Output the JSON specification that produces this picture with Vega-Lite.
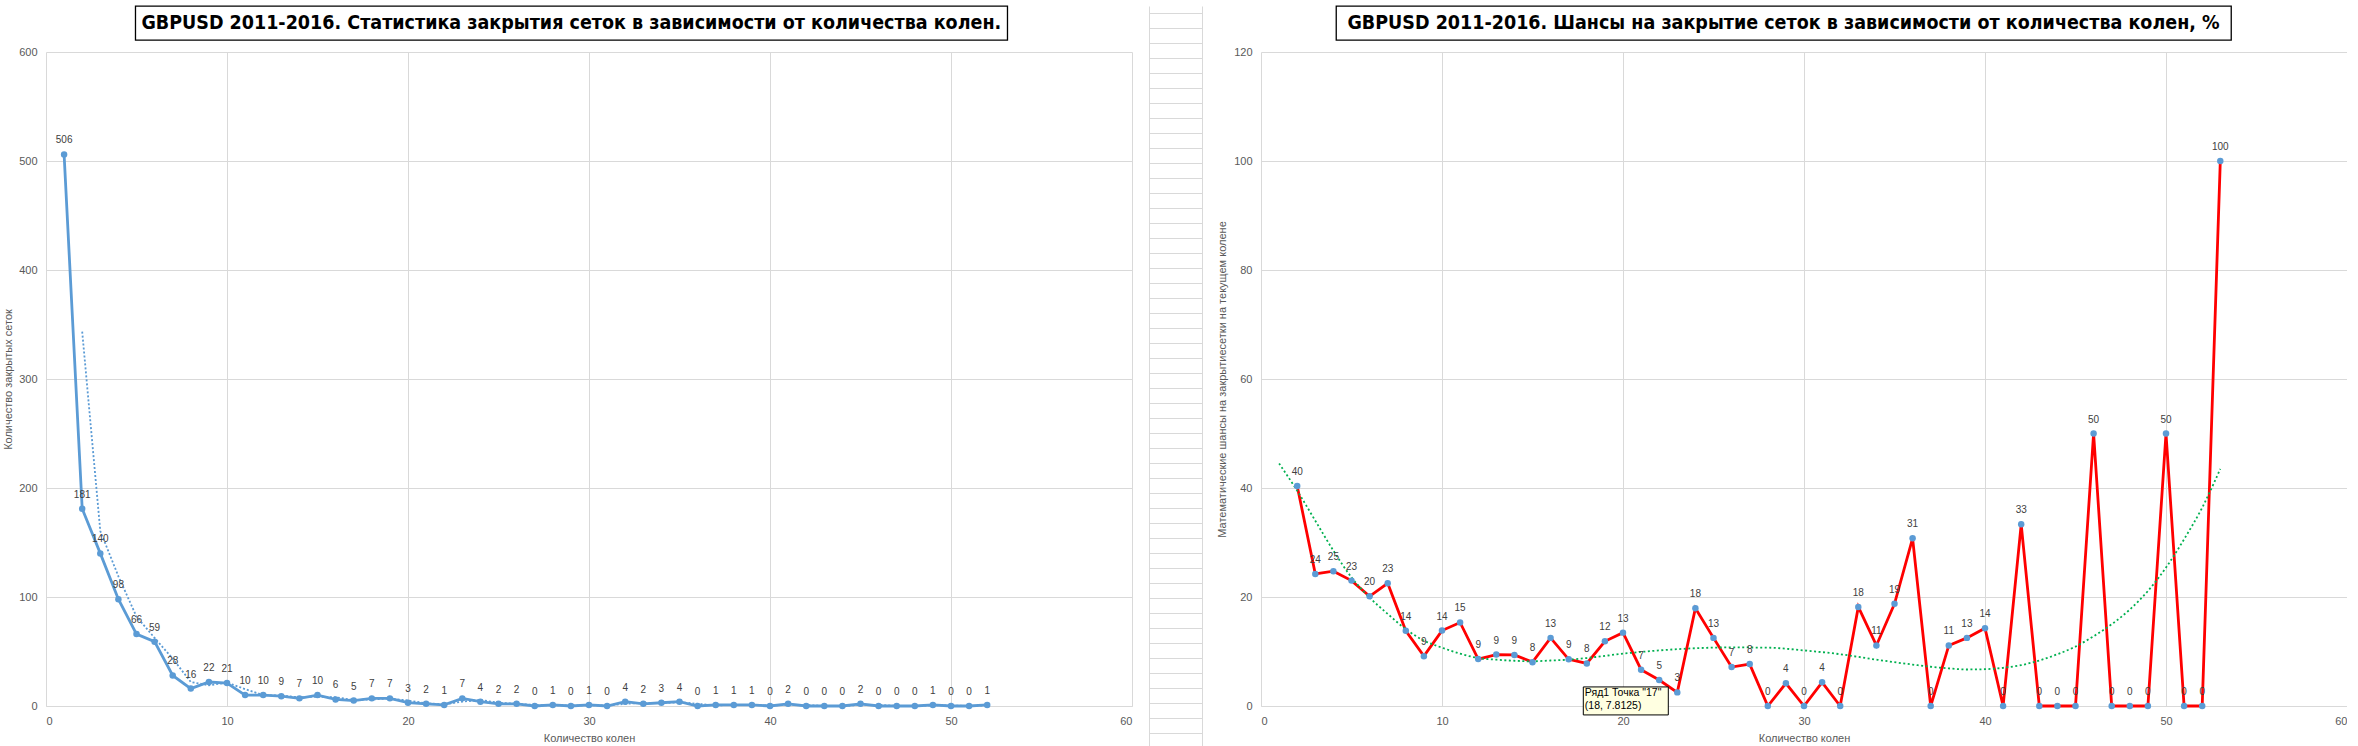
{
  "$schema": "https://vega.github.io/schema/vega-lite/v6.json",
  "background": "white",
  "padding": {"left": 2, "top": 5, "right": 0, "bottom": 0},
  "spacing": 14,
  "datasets": {
    "cnt": [
      {"k":1,"n":506},{"k":2,"n":181},{"k":3,"n":140},{"k":4,"n":98},{"k":5,"n":66},{"k":6,"n":59},{"k":7,"n":28},{"k":8,"n":16},{"k":9,"n":22},{"k":10,"n":21},
      {"k":11,"n":10},{"k":12,"n":10},{"k":13,"n":9},{"k":14,"n":7},{"k":15,"n":10},{"k":16,"n":6},{"k":17,"n":5},{"k":18,"n":7},{"k":19,"n":7},{"k":20,"n":3},
      {"k":21,"n":2},{"k":22,"n":1},{"k":23,"n":7},{"k":24,"n":4},{"k":25,"n":2},{"k":26,"n":2},{"k":27,"n":0},{"k":28,"n":1},{"k":29,"n":0},{"k":30,"n":1},
      {"k":31,"n":0},{"k":32,"n":4},{"k":33,"n":2},{"k":34,"n":3},{"k":35,"n":4},{"k":36,"n":0},{"k":37,"n":1},{"k":38,"n":1},{"k":39,"n":1},{"k":40,"n":0},
      {"k":41,"n":2},{"k":42,"n":0},{"k":43,"n":0},{"k":44,"n":0},{"k":45,"n":2},{"k":46,"n":0},{"k":47,"n":0},{"k":48,"n":0},{"k":49,"n":1},{"k":50,"n":0},
      {"k":51,"n":0},{"k":52,"n":1}
    ],
    "ma": [
      {"k":2,"n":343.5},{"k":3,"n":160.5},{"k":4,"n":119},{"k":5,"n":82},{"k":6,"n":62.5},{"k":7,"n":43.5},{"k":8,"n":22},{"k":9,"n":19},{"k":10,"n":21.5},
      {"k":11,"n":15.5},{"k":12,"n":10},{"k":13,"n":9.5},{"k":14,"n":8},{"k":15,"n":8.5},{"k":16,"n":8},{"k":17,"n":5.5},{"k":18,"n":6},{"k":19,"n":7},{"k":20,"n":5},
      {"k":21,"n":2.5},{"k":22,"n":1.5},{"k":23,"n":4},{"k":24,"n":5.5},{"k":25,"n":3},{"k":26,"n":2},{"k":27,"n":1},{"k":28,"n":0.5},{"k":29,"n":0.5},{"k":30,"n":0.5},
      {"k":31,"n":0.5},{"k":32,"n":2},{"k":33,"n":3},{"k":34,"n":2.5},{"k":35,"n":3.5},{"k":36,"n":2},{"k":37,"n":0.5},{"k":38,"n":1},{"k":39,"n":1},{"k":40,"n":0.5},
      {"k":41,"n":1},{"k":42,"n":1},{"k":43,"n":0},{"k":44,"n":0},{"k":45,"n":1},{"k":46,"n":1},{"k":47,"n":0},{"k":48,"n":0},{"k":49,"n":0.5},{"k":50,"n":0.5},
      {"k":51,"n":0},{"k":52,"n":0.5}
    ],
    "pct": [
      {"k":2,"p":40.3831},{"k":3,"p":24.2303},{"k":4,"p":24.735},{"k":5,"p":23.0047},{"k":6,"p":20.122},{"k":7,"p":22.5191},{"k":8,"p":13.7931},{"k":9,"p":9.1429},{"k":10,"p":13.8365},
      {"k":11,"p":15.3285},{"k":12,"p":8.6207},{"k":13,"p":9.434},{"k":14,"p":9.375},{"k":15,"p":8.046},{"k":16,"p":12.5},{"k":17,"p":8.5714},{"k":18,"p":7.8125},{"k":19,"p":11.8644},{"k":20,"p":13.4615},
      {"k":21,"p":6.6667},{"k":22,"p":4.7619},{"k":23,"p":2.5},{"k":24,"p":17.9487},{"k":25,"p":12.5},{"k":26,"p":7.1429},{"k":27,"p":7.6923},{"k":28,"p":0},{"k":29,"p":4.1667},{"k":30,"p":0},
      {"k":31,"p":4.3478},{"k":32,"p":0},{"k":33,"p":18.1818},{"k":34,"p":11.1111},{"k":35,"p":18.75},{"k":36,"p":30.7692},{"k":37,"p":0},{"k":38,"p":11.1111},{"k":39,"p":12.5},{"k":40,"p":14.2857},
      {"k":41,"p":0},{"k":42,"p":33.3333},{"k":43,"p":0},{"k":44,"p":0},{"k":45,"p":0},{"k":46,"p":50},{"k":47,"p":0},{"k":48,"p":0},{"k":49,"p":0},{"k":50,"p":50},
      {"k":51,"p":0},{"k":52,"p":0},{"k":53,"p":100}
    ],
    "poly": [
      {"k":1,"p":44.5},{"k":2,"p":39.5},{"k":3,"p":34.0},{"k":4,"p":28.5},{"k":5,"p":23.6},{"k":6,"p":19.9},{"k":7,"p":16.9},{"k":8,"p":14.1},{"k":9,"p":12.0},{"k":10,"p":10.7},
      {"k":11,"p":9.6},{"k":12,"p":8.8},{"k":13,"p":8.5},{"k":14,"p":8.3},{"k":15,"p":8.2},{"k":16,"p":8.35},{"k":17,"p":8.5},{"k":18,"p":8.8},{"k":20,"p":9.6},{"k":22,"p":10.2},
      {"k":24,"p":10.6},{"k":26,"p":10.75},{"k":28,"p":10.7},{"k":30,"p":10.2},{"k":32,"p":9.5},{"k":34,"p":8.5},{"k":36,"p":7.6},{"k":37,"p":7.2},{"k":38,"p":6.9},{"k":39,"p":6.7},
      {"k":40,"p":6.75},{"k":41,"p":7.0},{"k":42,"p":7.5},{"k":43,"p":8.35},{"k":44,"p":9.5},{"k":45,"p":10.9},{"k":46,"p":12.8},{"k":47,"p":15.0},{"k":48,"p":17.7},{"k":49,"p":21.1},
      {"k":50,"p":25.4},{"k":51,"p":30.6},{"k":52,"p":36.4},{"k":53,"p":43.5}
    ],
    "tip": [
      {"k":18,"p":7.8125,"tip":"Ряд1 Точка \"17\"\n(18, 7.8125)"}
    ]
  },
  "hconcat": [
    {
      "vconcat": [
        {
          "width": 872, "height": 34,
          "view": {"stroke": "black", "strokeWidth": 1.3},
          "data": {"values": [{"t": "GBPUSD 2011-2016. Статистика закрытия сеток в зависимости от количества колен.", "e": "."}]},
          "layer": [
            {"mark": {"type": "text", "font": "DejaVu Sans Condensed, sans-serif", "fontWeight": "bold", "fontSize": 19.5, "color": "black", "align": "center", "baseline": "middle"},
             "encoding": {"text": {"field": "t"}}},
            {"mark": {"type": "text", "opacity": 0, "fontSize": 10, "align": "left", "baseline": "middle", "dx": 468},
             "encoding": {"text": {"field": "e"}}}
          ]
        },
        {
          "width": 1086, "height": 654,
          "encoding": {
            "x": {"field": "k", "type": "quantitative", "scale": {"domain": [0, 60], "nice": false},
                  "axis": {"values": [0,10,20,30,40,50,60], "title": "Количество колен", "labelPadding": 9, "titlePadding": 6}},
            "y": {"field": "n", "type": "quantitative", "scale": {"domain": [0, 600], "nice": false},
                  "axis": {"values": [0,100,200,300,400,500,600], "title": "Количество закрытых сеток", "labelPadding": 9, "titlePadding": 5, "domain": false}}
          },
          "layer": [
            {"data": {"name": "ma"}, "mark": {"type": "line", "color": "#5B9BD5", "strokeWidth": 1.8, "strokeDash": [2, 2]}},
            {"data": {"name": "cnt"}, "mark": {"type": "line", "color": "#5B9BD5", "strokeWidth": 2.8}},
            {"data": {"name": "cnt"}, "mark": {"type": "point", "filled": true, "opacity": 1, "size": 42, "color": "#5B9BD5"}},
            {"data": {"name": "cnt"}, "mark": {"type": "text", "fontSize": 10, "color": "#404040", "baseline": "middle", "dy": -14},
             "encoding": {"text": {"field": "n", "type": "quantitative", "format": "d"}}}
          ]
        }
      ],
      "spacing": 5,
      "center": true
    },
    {
      "width": 53, "height": 741,
      "data": {"values": [{"a": 0, "b": 0}]},
      "mark": {"type": "point", "opacity": 0},
      "encoding": {
        "x": {"field": "a", "type": "quantitative", "scale": {"domain": [0, 1], "nice": false, "zero": false},
              "axis": {"values": [0, 1], "grid": true, "labels": false, "ticks": false, "domain": false, "title": null}},
        "y": {"field": "b", "type": "quantitative", "scale": {"domain": [-0.487, 48.913], "nice": false, "zero": false, "reverse": true},
              "axis": {"values": [0,1,2,3,4,5,6,7,8,9,10,11,12,13,14,15,16,17,18,19,20,21,22,23,24,25,26,27,28,29,30,31,32,33,34,35,36,37,38,39,40,41,42,43,44,45,46,47,48], "grid": true, "labels": false, "ticks": false, "domain": false, "title": null}}
      }
    },
    {
      "vconcat": [
        {
          "width": 895, "height": 34,
          "view": {"stroke": "black", "strokeWidth": 1.3},
          "data": {"values": [{"t": "GBPUSD 2011-2016. Шансы на закрытие сеток в зависимости от количества колен, %", "e": "."}]},
          "layer": [
            {"mark": {"type": "text", "font": "DejaVu Sans Condensed, sans-serif", "fontWeight": "bold", "fontSize": 19.5, "color": "black", "align": "center", "baseline": "middle"},
             "encoding": {"text": {"field": "t"}}},
            {"mark": {"type": "text", "opacity": 0, "fontSize": 10, "align": "left", "baseline": "middle", "dx": 485},
             "encoding": {"text": {"field": "e"}}}
          ]
        },
        {
          "width": 1086, "height": 654,
          "encoding": {
            "x": {"field": "k", "type": "quantitative", "scale": {"domain": [0, 60], "nice": false},
                  "axis": {"values": [0,10,20,30,40,50,60], "title": "Количество колен", "labelPadding": 9, "titlePadding": 6}},
            "y": {"field": "p", "type": "quantitative", "scale": {"domain": [0, 120], "nice": false},
                  "axis": {"values": [0,20,40,60,80,100,120], "title": "Математические шансы на закрытиесетки на текущем колене", "labelPadding": 9, "titlePadding": 6, "domain": false}}
          },
          "layer": [
            {"data": {"name": "pct"}, "mark": {"type": "line", "color": "#FF0000", "strokeWidth": 2.8}},
            {"data": {"name": "poly"}, "mark": {"type": "line", "color": "#00B050", "strokeWidth": 1.8, "strokeDash": [2, 2.5], "interpolate": "monotone"}},
            {"data": {"name": "pct"}, "mark": {"type": "point", "filled": true, "opacity": 1, "size": 42, "color": "#5B9BD5"}},
            {"data": {"name": "pct"}, "mark": {"type": "text", "fontSize": 10, "color": "#404040", "baseline": "middle", "dy": -14},
             "encoding": {"text": {"field": "p", "type": "quantitative", "format": ".0f"}}},
            {"data": {"name": "tip"}, "mark": {"type": "rect", "width": 85, "height": 28, "xOffset": 39, "yOffset": 37.5, "fill": "#FFFFE1", "stroke": "black", "strokeWidth": 1}},
            {"data": {"name": "tip"}, "mark": {"type": "text", "fontSize": 10.5, "color": "black", "align": "left", "baseline": "top", "dx": -2, "dy": 25, "lineBreak": "\n", "lineHeight": 12.6},
             "encoding": {"text": {"field": "tip"}}}
          ]
        }
      ],
      "spacing": 5,
      "center": true
    }
  ],
  "config": {
    "view": {"stroke": null},
    "font": "Liberation Sans",
    "axis": {
      "grid": true, "gridColor": "#D9D9D9", "gridWidth": 1,
      "domainColor": "#D9D9D9", "ticks": false,
      "labelColor": "#595959", "labelFontSize": 11, "labelFont": "Liberation Sans",
      "titleColor": "#595959", "titleFontSize": 11, "titleFont": "Liberation Sans", "titleFontWeight": "normal"
    }
  }
}
